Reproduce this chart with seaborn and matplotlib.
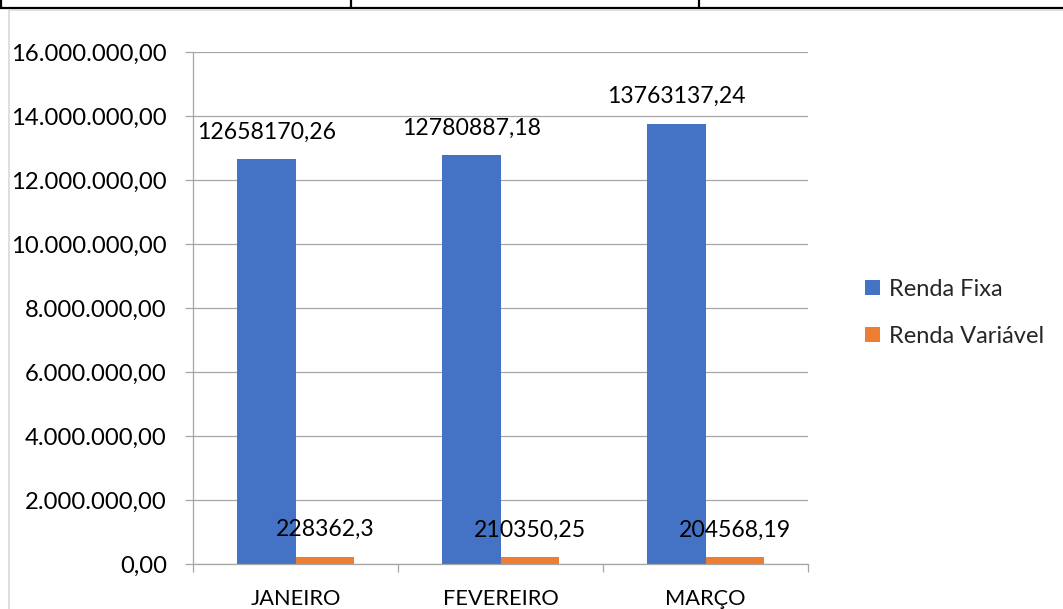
import matplotlib
matplotlib.use("Agg")
import matplotlib.pyplot as plt
from matplotlib.lines import Line2D
from matplotlib.ticker import FuncFormatter, MultipleLocator, FixedLocator
import seaborn as sns
import pandas as pd

# Monthly totals per investment type
meses = ["JANEIRO", "FEVEREIRO", "MARÇO"]
renda_fixa = [12658170.26, 12780887.18, 13763137.24]
renda_variavel = [228362.3, 210350.25, 204568.19]
series = ["Renda Fixa", "Renda Variável"]
cores = ["#4472C4", "#ED7D31"]

df = pd.DataFrame({
    "mes": meses * 2,
    "valor": renda_fixa + renda_variavel,
    "serie": [series[0]] * len(meses) + [series[1]] * len(meses),
})

sns.set_theme(style="white")
plt.rcParams["font.family"] = ["Lato", "DejaVu Sans"]

W, H = 1063, 609
fig = plt.figure(figsize=(W / 100, H / 100), dpi=100)
ax = fig.add_axes([193 / W, 1 - 564 / H, (808 - 193) / W, (564 - 52) / H])

sns.barplot(data=df, x="mes", y="valor", hue="serie", order=meses,
            hue_order=series, palette=cores, width=0.573, gap=0,
            linewidth=0, saturation=1, ax=ax, legend=True)

ax.set_xlim(-0.5, 2.5)
ax.set_ylim(0, 16_000_000)
ax.yaxis.set_major_locator(MultipleLocator(2_000_000))


def br_fmt(v, _pos):
    s = f"{v:,.2f}"
    return s.replace(",", "X").replace(".", ",").replace("X", ".")


ax.yaxis.set_major_formatter(FuncFormatter(br_fmt))
ax.set_xlabel("")
ax.set_ylabel("")

grid_col = "#A6A6A6"
ax.yaxis.grid(True, color=grid_col, linewidth=0.9)
ax.set_axisbelow(True)
for side in ("top", "right"):
    ax.spines[side].set_visible(False)
for side in ("left", "bottom"):
    ax.spines[side].set_color(grid_col)
    ax.spines[side].set_linewidth(0.9)

ax.tick_params(axis="y", which="major", length=5.8, width=0.9, color=grid_col,
               pad=13, labelsize=17.2, labelcolor="#000000", left=True)
ax.xaxis.set_minor_locator(FixedLocator([-0.5, 0.5, 1.5, 2.5]))
ax.tick_params(axis="x", which="minor", length=5.8, width=0.9, color=grid_col, bottom=True)
ax.tick_params(axis="x", which="major", length=0, pad=18, labelsize=15.7, labelcolor="#000000")

# value labels above each bar
for cont, vals in zip(ax.containers, [renda_fixa, renda_variavel]):
    for patch, v in zip(cont.patches, vals):
        ax.annotate(str(v).replace(".", ","),
                    (patch.get_x() + patch.get_width() / 2, patch.get_height()),
                    xytext=(0, 19.5), textcoords="offset points",
                    ha="center", va="center", fontsize=16.6, color="#000000")

handles, labels = ax.get_legend_handles_labels()
ax.legend(handles, labels, loc="center left", bbox_to_anchor=(865 / W, 1 - 313 / H),
          bbox_transform=fig.transFigure, frameon=False, fontsize=17,
          handlelength=0.63, handleheight=0.63, handletextpad=0.4,
          labelspacing=1.1, borderaxespad=0, borderpad=0)

# table rule above the chart and the chart frame edge
fig.add_artist(Line2D([0, 1], [1 - 8 / H] * 2, color="black", linewidth=1.6,
                      transform=fig.transFigure))
for xp in (1, 351, 699):
    fig.add_artist(Line2D([xp / W] * 2, [1 - 8 / H, 1], color="black", linewidth=1.6,
                          transform=fig.transFigure))
fig.add_artist(Line2D([9 / W, 1], [1 - 10 / H] * 2, color="#D9D9D9", linewidth=1.2,
                      transform=fig.transFigure))
fig.add_artist(Line2D([9 / W] * 2, [0, 1 - 10 / H], color="#D9D9D9", linewidth=1.2,
                      transform=fig.transFigure))

fig.savefig("out.png", dpi=100)
